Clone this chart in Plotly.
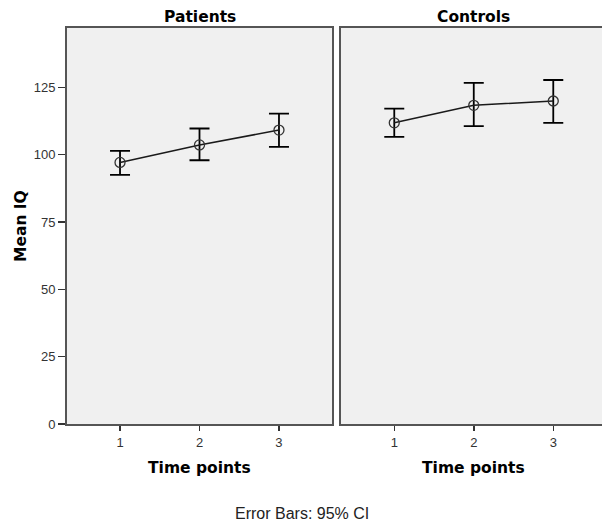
import plotly.graph_objects as go

time_points = [1, 2, 3]
tick_labels = ["1", "2", "3"]
patients_mean = [97.1, 103.6, 109.1]
patients_upper = [101.4, 109.7, 115.2]
patients_lower = [92.5, 97.9, 102.9]
controls_mean = [111.8, 118.3, 119.9]
controls_upper = [117.1, 126.6, 127.7]
controls_lower = [106.6, 110.6, 111.8]
y_ticks = [0, 25, 50, 75, 100, 125]

fig = go.Figure()

def add_series(mean, upper, lower, xa, ya):
    fig.add_trace(go.Scatter(
        x=time_points, y=mean, xaxis=xa, yaxis=ya, mode="lines+markers",
        line=dict(color="#1a1a1a", width=1.5),
        marker=dict(symbol="circle-open", size=10, color="#333333", line=dict(width=1.3)),
        error_y=dict(type="data", symmetric=False,
                     array=[u - m for u, m in zip(upper, mean)],
                     arrayminus=[m - l for m, l in zip(mean, lower)],
                     color="#000000", thickness=1.8, width=10),
        showlegend=False, hoverinfo="skip"))

add_series(patients_mean, patients_upper, patients_lower, "x", "y")
add_series(controls_mean, controls_upper, controls_lower, "x2", "y2")

FONT = "Liberation Sans, Arial, sans-serif"
BFONT = "DejaVu Sans, Verdana, sans-serif"
axis_font = dict(family=FONT, size=13, color="#333333")
common_x = dict(tickvals=time_points, ticktext=tick_labels, ticks="outside", ticklen=5,
                tickcolor="#333333", tickwidth=1.5, showgrid=False, zeroline=False,
                showline=True, linecolor="#555555", linewidth=2, tickfont=axis_font,
                fixedrange=True)

# the right panel runs past the window edge, as in the reference
L, T = 67, 28
W, H = 612, 522
B = H - 424
plot_w = W - L
x2_end = 0.33 + (W - 341) / 79.5
fig.update_layout(
    width=W, height=H,
    margin=dict(l=L, r=0, t=T, b=B),
    paper_bgcolor="white", plot_bgcolor="#f0f0f0",
    xaxis=dict(domain=[0, 265 / plot_w], range=[0.333, 3.667], mirror=True, anchor="y", **common_x),
    xaxis2=dict(domain=[274 / plot_w, 1.0], range=[0.33, x2_end], mirror=True, anchor="y2", **common_x),
    yaxis=dict(range=[0, 147], tickvals=y_ticks, ticks="outside", ticklen=7, tickcolor="#333333",
               tickwidth=1.5, showgrid=False, zeroline=False, showline=True, mirror=True,
               linecolor="#555555", linewidth=2, tickfont=axis_font, anchor="x"),
    yaxis2=dict(range=[0, 147], showticklabels=False, ticks="", showgrid=False, zeroline=False,
                showline=True, mirror=False, linecolor="#555555", linewidth=2, anchor="x2"),
)

title_font = dict(family=BFONT, size=15.5, color="#000000")
fig.add_annotation(text="<b>Patients</b>", x=2, xref="x", y=1.0, yref="paper",
                   yanchor="bottom", yshift=0, showarrow=False, font=title_font)
fig.add_annotation(text="<b>Controls</b>", x=2, xref="x2", y=1.0, yref="paper",
                   yanchor="bottom", yshift=0, showarrow=False, font=title_font)
fig.add_annotation(text="<b>Time points</b>", x=2, xref="x", y=0, yref="paper",
                   yanchor="middle", yshift=-44, showarrow=False, font=title_font)
fig.add_annotation(text="<b>Time points</b>", x=2, xref="x2", y=0, yref="paper",
                   yanchor="middle", yshift=-44, showarrow=False, font=title_font)
fig.add_annotation(text="<b>Mean IQ</b>", x=0, xref="paper", xanchor="center", xshift=-46,
                   y=0.5, yref="paper", yanchor="middle",
                   textangle=-90, showarrow=False, font=title_font)
fig.add_annotation(text="Error Bars: 95% CI", x=(302 - L) / plot_w, xref="paper", xanchor="center",
                   y=0, yref="paper", yanchor="middle", yshift=-89,
                   showarrow=False, font=dict(family=FONT, size=16, color="#222222"))

fig.write_html(
    "out.html",
    config={"displayModeBar": False, "staticPlot": True},
    post_script="document.body.style.margin='0';document.body.style.overflow='hidden';",
)
